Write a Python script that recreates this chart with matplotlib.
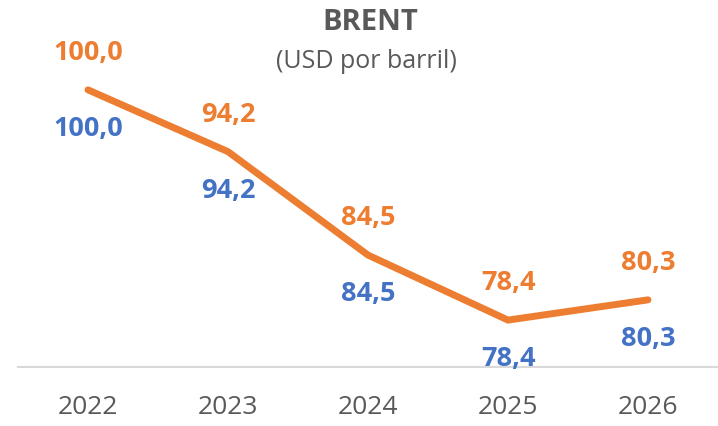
import matplotlib.pyplot as plt

years = ["2022", "2023", "2024", "2025", "2026"]
brent_actual = [100.0, 94.2, 84.5, 78.4, 80.3]
brent_previo = [100.0, 94.2, 84.5, 78.4, 80.3]

ORANGE = "#ED7D31"
BLUE = "#4472C4"
GREY = "#595959"
FONT = ["Open Sans", "DejaVu Sans"]

fig = plt.figure(figsize=(7.18, 4.26), dpi=100)
ax = fig.add_axes([18/718, 59/426, 700/718, (367-60)/426])

x = list(range(len(years)))
ax.plot(x, brent_previo, color=BLUE, lw=3.5, solid_capstyle="round", zorder=2)
ax.plot(x, brent_actual, color=ORANGE, lw=5, solid_joinstyle="miter",
        solid_capstyle="round", zorder=3)

def fmt(v):
    return f"{v:.1f}".replace(".", ",")

for i, v in enumerate(brent_actual):
    ax.annotate(fmt(v), (i, v), xytext=(0, 26.5), textcoords="offset points",
                ha="center", va="center", color=ORANGE, fontsize=19.5,
                fontweight="bold", family=FONT)
for i, v in enumerate(brent_previo):
    ax.annotate(fmt(v), (i, v), xytext=(0, -28), textcoords="offset points",
                ha="center", va="center", color=BLUE, fontsize=19.5,
                fontweight="bold", family=FONT)

ax.set_xlim(-0.5, len(years) - 0.5)
ax.set_ylim(74, 102.8)
ax.set_xticks(x)
ax.set_xticklabels(years, fontsize=19, color=GREY, family=FONT)
ax.tick_params(axis="x", length=0, pad=20)
ax.set_yticks([])
for s in ["top", "right", "left"]:
    ax.spines[s].set_visible(False)
ax.spines["bottom"].set_color("#D9D9D9")
ax.spines["bottom"].set_linewidth(1.5)
ax.patch.set_alpha(0)

fig.text(370/718, 1 - 22/426, "BRENT", ha="center", va="center",
         fontsize=21, fontweight="bold", color=GREY, family=FONT)
fig.text(366/718, 1 - 61/426, "(USD por barril)", ha="center", va="center",
         fontsize=18, color=GREY, family=FONT)

fig.savefig("out.png", dpi=100)
